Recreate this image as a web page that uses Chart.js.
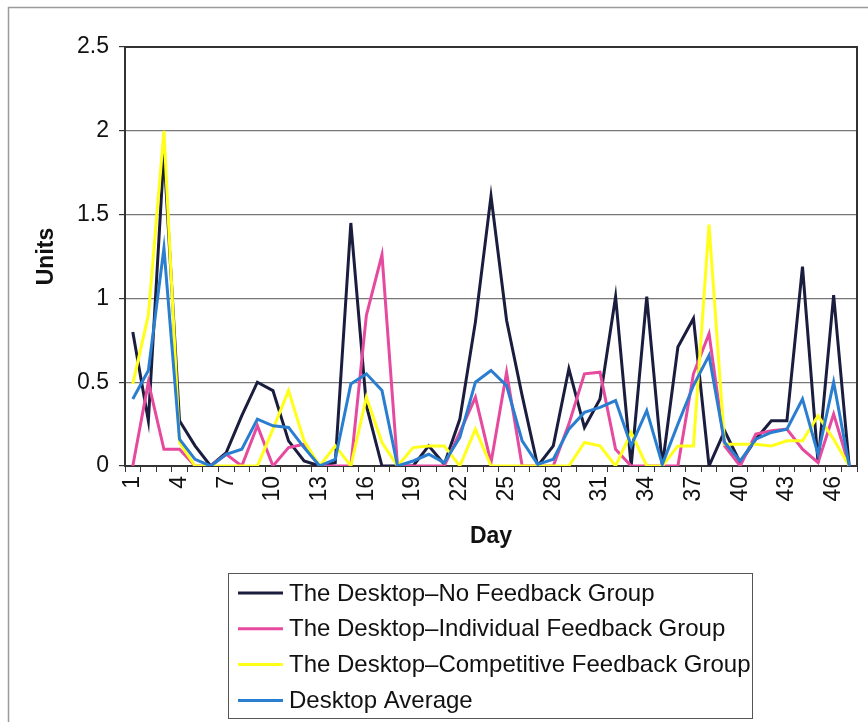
<!DOCTYPE html>
<html>
<head>
<meta charset="utf-8">
<title>Desktop Units by Day</title>
<script src="https://cdn.jsdelivr.net/npm/chart.js@4.4.1/dist/chart.umd.min.js"></script>
<style>
    html, body { margin: 0; padding: 0; background: #fff; }
    canvas { display: block; }
</style>
</head>
<body>
<canvas id="unitsChart" width="868" height="722"></canvas>
<script>
// 日ごとのデータ (1〜47日)
const days = Array.from({ length: 47 }, (_, i) => String(i + 1));

const noFeedback = [
    0.80, 0.27, 1.87, 0.27, 0.12, 0.00, 0.08, 0.30, 0.50, 0.45,
    0.15, 0.03, 0.00, 0.02, 1.45, 0.36, 0.00, 0.00, 0.00, 0.12,
    0.01, 0.28, 0.86, 1.61, 0.87, 0.42, 0.00, 0.12, 0.58, 0.23,
    0.40, 1.01, 0.00, 1.01, 0.00, 0.71, 0.88, 0.00, 0.21, 0.02,
    0.16, 0.27, 0.27, 1.19, 0.02, 1.02, 0.00
];
const individualFeedback = [
    0.00, 0.50, 0.10, 0.10, 0.00, 0.00, 0.07, 0.00, 0.24, 0.00,
    0.11, 0.13, 0.00, 0.00, 0.00, 0.90, 1.26, 0.00, 0.00, 0.00,
    0.00, 0.20, 0.41, 0.02, 0.56, 0.00, 0.00, 0.00, 0.25, 0.55,
    0.56, 0.10, 0.00, 0.00, 0.00, 0.00, 0.55, 0.79, 0.12, 0.00,
    0.19, 0.21, 0.22, 0.10, 0.02, 0.31, 0.00
];
const competitiveFeedback = [
    0.49, 0.90, 2.00, 0.14, 0.00, 0.00, 0.00, 0.00, 0.00, 0.22,
    0.45, 0.15, 0.00, 0.12, 0.00, 0.41, 0.14, 0.00, 0.11, 0.12,
    0.12, 0.00, 0.22, 0.00, 0.00, 0.00, 0.00, 0.00, 0.00, 0.14,
    0.12, 0.00, 0.20, 0.00, 0.00, 0.12, 0.12, 1.44, 0.13, 0.13,
    0.13, 0.12, 0.15, 0.15, 0.30, 0.16, 0.00
];
const desktopAverage = [
    0.40, 0.57, 1.30, 0.16, 0.04, 0.00, 0.07, 0.10, 0.28, 0.24,
    0.23, 0.11, 0.00, 0.04, 0.49, 0.55, 0.45, 0.00, 0.03, 0.07,
    0.02, 0.17, 0.50, 0.57, 0.48, 0.15, 0.01, 0.04, 0.22, 0.32,
    0.35, 0.39, 0.12, 0.33, 0.01, 0.25, 0.48, 0.66, 0.14, 0.03,
    0.16, 0.20, 0.22, 0.40, 0.07, 0.50, 0.00
];

const seriesLabels = [
    'The Desktop\u2013No Feedback Group',
    'The Desktop\u2013Individual Feedback Group',
    'The Desktop\u2013Competitive Feedback Group',
    'Desktop Average'
];
const seriesColors = ['#1b1d3f', '#e64a9e', '#ffff1a', '#2a7ed0'];

const FONT = '"Liberation Sans", Arial, sans-serif';

// 外枠・プロット枠
const framePlugin = {
    id: 'frame',
    beforeDraw(chart) {
        const ctx = chart.ctx;
        ctx.save();
        ctx.fillStyle = '#fff';
        ctx.fillRect(0, 0, chart.width, chart.height);
        ctx.strokeStyle = '#9a9a9a';
        ctx.lineWidth = 1.5;
        ctx.beginPath();
        ctx.moveTo(8.5, chart.height);
        ctx.lineTo(8.5, 7.5);
        ctx.lineTo(chart.width, 7.5);
        ctx.stroke();
        ctx.restore();
    },
    beforeDatasetsDraw(chart) {
        const { ctx, chartArea: a } = chart;
        ctx.save();
        ctx.strokeStyle = '#333';
        ctx.lineWidth = 2;
        ctx.strokeRect(a.left, a.top, a.right - a.left, a.bottom - a.top);
        ctx.restore();
    }
};

// 縦並びの凡例（枠付き）
const boxLegendPlugin = {
    id: 'boxLegend',
    afterDraw(chart) {
        const ctx = chart.ctx;
        const box = { x: 228.5, y: 573.5, w: 524, h: 145 };
        ctx.save();
        ctx.strokeStyle = '#555';
        ctx.lineWidth = 1;
        ctx.strokeRect(box.x, box.y, box.w, box.h);
        ctx.font = '24px ' + FONT;
        ctx.textBaseline = 'middle';
        ctx.textAlign = 'left';
        chart.data.datasets.forEach((ds, i) => {
            const y = 593 + i * 35.8;
            ctx.strokeStyle = ds.borderColor;
            ctx.lineWidth = 3;
            ctx.beginPath();
            ctx.moveTo(238, y);
            ctx.lineTo(283, y);
            ctx.stroke();
            ctx.fillStyle = '#111';
            ctx.fillText(ds.label, 289, y + 1);
        });
        ctx.restore();
    }
};

const ctx = document.getElementById('unitsChart').getContext('2d');
const seriesData = [noFeedback, individualFeedback, competitiveFeedback, desktopAverage];

new Chart(ctx, {
    type: 'line',
    data: {
        labels: days,
        datasets: seriesData.map((values, i) => ({
            label: seriesLabels[i],
            data: values,
            borderColor: seriesColors[i],
            backgroundColor: seriesColors[i],
            borderWidth: 3,
            pointRadius: 0,
            tension: 0,
            fill: false,
            order: 3 - i
        }))
    },
    options: {
        responsive: false,
        animation: false,
        layout: {
            padding: { top: 47, right: 11, bottom: 162, left: 0 }
        },
        scales: {
            x: {
                offset: true,
                afterFit: (scale) => {
                    scale.height = 94;
                    scale.paddingLeft = 0;
                    scale.paddingRight = 0;
                },
                border: { display: true, color: '#333', width: 2 },
                grid: {
                    offset: true,
                    drawOnChartArea: false,
                    drawTicks: true,
                    tickLength: 6,
                    tickColor: '#333'
                },
                ticks: {
                    autoSkip: false,
                    minRotation: 90,
                    maxRotation: 90,
                    padding: 4,
                    color: '#111',
                    font: { family: FONT, size: 23 },
                    callback: function(value, index) {
                        return index % 3 === 0 ? this.getLabelForValue(value) : '';
                    }
                },
                title: {
                    display: true,
                    text: 'Day',
                    color: '#111',
                    font: { family: FONT, size: 23, weight: 'bold' },
                    padding: { top: 0, bottom: 10 }
                }
            },
            y: {
                min: 0,
                max: 2.5,
                afterFit: (scale) => { scale.width = 125; },
                border: { display: true, color: '#333', width: 2 },
                grid: {
                    color: '#777',
                    lineWidth: 1.2,
                    drawTicks: true,
                    tickLength: 6,
                    tickColor: '#333'
                },
                ticks: {
                    stepSize: 0.5,
                    padding: 10,
                    color: '#111',
                    font: { family: FONT, size: 23 },
                    callback: (value) => String(Math.round(value * 10) / 10)
                },
                title: {
                    display: true,
                    text: 'Units',
                    color: '#111',
                    font: { family: FONT, size: 23, weight: 'bold' },
                    padding: { top: 33, bottom: 0 }
                }
            }
        },
        plugins: {
            legend: { display: false },
            tooltip: { enabled: false }
        }
    },
    plugins: [framePlugin, boxLegendPlugin]
});
</script>
</body>
</html>
